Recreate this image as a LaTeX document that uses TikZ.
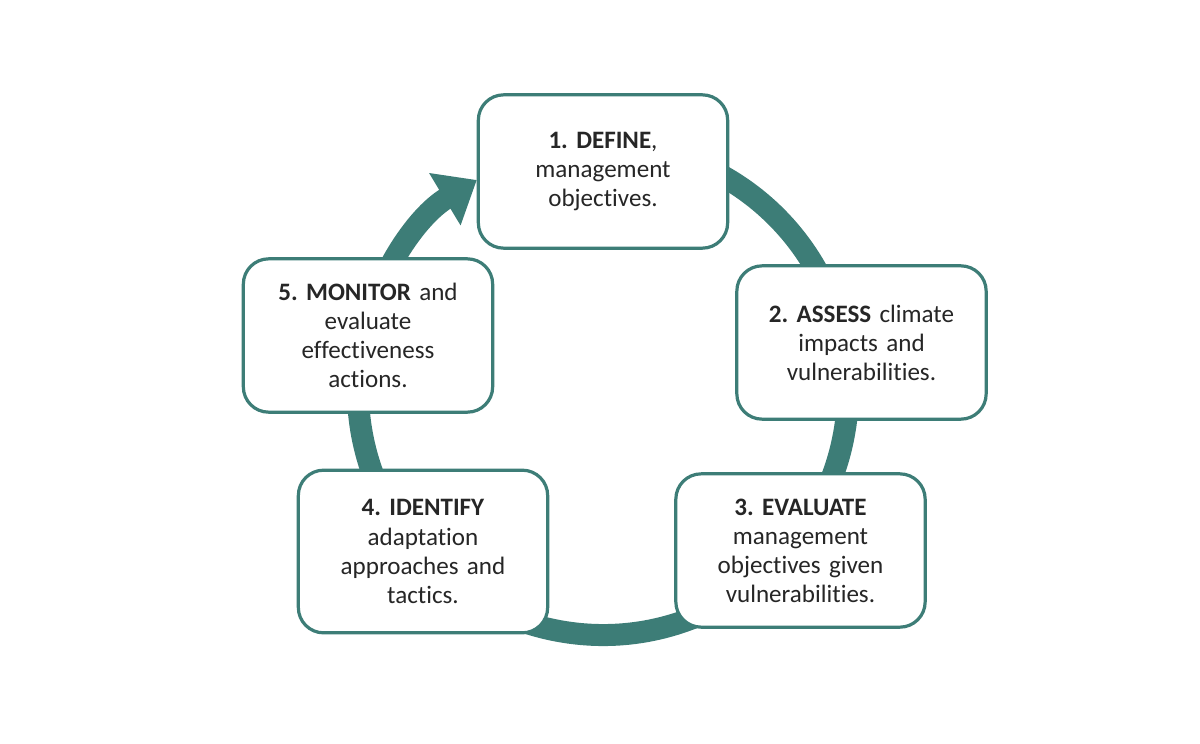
\documentclass[tikz,border=0pt]{standalone}
\usepackage{fontspec}
\setmainfont{Carlito}[Ligatures={NoCommon,NoRare,NoContextual}]
\usetikzlibrary{arrows.meta}
\definecolor{teal1}{HTML}{3D7D77}
\definecolor{txt}{HTML}{262626}
\frenchspacing
\begin{document}
\begin{tikzpicture}[x=0.75pt,y=-0.75pt,
  box/.style={draw=teal1,line width=2.4pt,fill=white,rounded corners=19pt,minimum width=187pt,minimum height=115pt,align=center,text=txt,font=\fontsize{18.8}{21.8}\selectfont,text width=180pt}]
\useasboundingbox (0,0) rectangle (1200,743);
\coordinate (c) at (603,390);
\draw[teal1,line width=16.5pt,-{Triangle[length=28pt,width=44pt]}] (c) ++(-80:245) arc[start angle=-80,end angle=239,radius=245];
\node[box] (n1) at (603,171.5) {\textbf{1. DEFINE},\\ management\\ objectives.};
\node[box] (n2) at (861.5,342.5) {\textbf{2. ASSESS} climate\\ impacts and\\ vulnerabilities.};
\node[box] (n3) at (800.5,550.5) {\textbf{3. EVALUATE}\\ management\\ objectives given\\ vulnerabilities.};
\node[box,minimum height=122pt] (n4) at (423,551.5) {\textbf{4. IDENTIFY}\\ adaptation\\ approaches and\\ tactics.};
\node[box] (n5) at (368,335.5) {\textbf{5. MONITOR} and\\ evaluate\\ effectiveness\\ actions.};
\end{tikzpicture}
\end{document}
